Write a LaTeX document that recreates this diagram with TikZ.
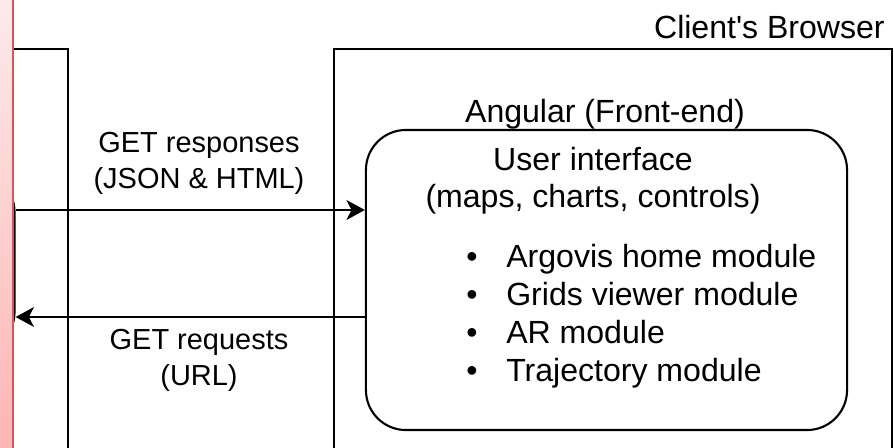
\documentclass[tikz,border=0pt]{standalone}
\usepackage{fontspec}
\setmainfont{Liberation Sans}
\usetikzlibrary{arrows.meta, positioning}
\definecolor{stripfill}{HTML}{FFB3B3}
\definecolor{striptop}{HTML}{FDEBEB}
\definecolor{stripline}{HTML}{CC5B5B}
\tikzset{
    frame/.style={
        rectangle,
        draw=black,
        line width=1.5pt,
        fill=white,
        inner sep=0pt
    },
    uibox/.style={
        rectangle,
        rounded corners=1cm,
        draw=black,
        line width=1.5pt,
        fill=white,
        inner sep=0pt,
        minimum width=12.025cm,
        minimum height=7.5cm
    },
    title/.style={
        font=\fontsize{22.8}{27}\selectfont,
        inner sep=0pt
    },
    msg/.style={
        font=\fontsize{20.6}{25.6}\selectfont,
        align=center,
        inner sep=0pt
    },
    item/.style={
        font=\fontsize{22.8}{27}\selectfont,
        anchor=base west,
        inner sep=0pt
    },
    arrow/.style={
        -{Stealth[length=13pt, width=14pt, inset=3.5pt]},
        line width=1.5pt
    }
}

\begin{document}
\begin{tikzpicture}[x=0.025cm, y=-0.025cm]
    \useasboundingbox (0,0) rectangle (894,447);
    \clip (0,0) rectangle (894,447);

    % Server side (cut off at the left)
    \node[frame, minimum width=1.95cm, minimum height=11.775cm] (server) at (29,284.5) {};
    \node[uibox, minimum width=5cm, minimum height=4.5cm] (apibox) at (-85.5,262) {};
    \node[rectangle, draw=stripline, line width=1.2pt, top color=striptop, bottom color=stripfill,
        minimum width=1.575cm, minimum height=11.75cm] (strip) at (-18.5,225) {};

    % Client side
    \node[frame, minimum width=13.95cm, minimum height=11.775cm] (browser) at (613,284.5) {};
    \node[title, anchor=base east] (browserlabel) at (885,38) {Client\textquotesingle s Browser};
    \node[title, anchor=base] (angular) at (605,122) {Angular (Front-end)};

    % Front-end box
    \node[uibox] (ui) at (606.5,280) {};
    \node[title, anchor=base] (uititle) at (593,170) {User interface};
    \node[title, anchor=base] (uisub) at (593,207) {(maps, charts, controls)};
    \foreach \txt [count=\i] in {Argovis home module, Grids viewer module, AR module, Trajectory module} {
        \node[item] (mod\i) at (506,{267+38.3*(\i-1)}) {\txt};
        \node[item, anchor=base] (dot\i) at (472,{267+38.3*(\i-1)}) {\textbullet};
    }

    % Messages
    \node[msg] (resp) at (199,163) {GET responses\\(JSON \& HTML)};
    \node[msg] (req) at (199,360) {GET requests\\(URL)};
    \coordinate (respY) at (0,210);
    \coordinate (reqY) at (0,317);
    \draw[arrow] (apibox.east |- respY) -- (ui.west |- respY);
    \draw[arrow] (ui.west |- reqY) -- (apibox.east |- reqY);

\end{tikzpicture}
\end{document}
